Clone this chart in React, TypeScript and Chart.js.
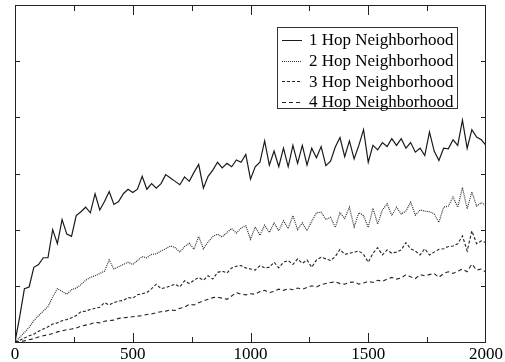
import React, { useEffect, useRef } from "react";
import { Chart, registerables } from "chart.js";

Chart.register(...registerables);

const xValues: number[] = Array.from({ length: 101 }, (_, i) => i * 20);

const hop1: number[] = [
  0, 0.45, 0.95, 0.98, 1.33, 1.38, 1.5, 1.5, 2.0, 1.75,
  2.18, 1.92, 1.88, 2.25, 2.32, 2.4, 2.3, 2.64, 2.35, 2.5,
  2.68, 2.45, 2.5, 2.64, 2.72, 2.66, 2.72, 2.95, 2.72, 2.82,
  2.74, 2.82, 2.98, 2.92, 2.86, 2.8, 2.94, 2.86, 3.02, 3.16,
  2.74, 2.95, 3.06, 3.2, 3.1, 3.18, 3.12, 3.24, 3.2, 3.34,
  2.9, 3.12, 3.2, 3.58, 3.15, 3.4, 3.12, 3.45, 3.12, 3.5,
  3.18, 3.5, 3.15, 3.45, 3.28, 3.48, 3.14, 3.22, 3.47, 3.64,
  3.3, 3.58, 3.26, 3.5, 3.78, 3.2, 3.5, 3.42, 3.55, 3.48,
  3.62, 3.5, 3.62, 3.45, 3.55, 3.38, 3.45, 3.32, 3.74, 3.4,
  3.23, 3.45, 3.44, 3.6, 3.5, 3.95, 3.45, 3.78, 3.65, 3.6,
  3.5,
];

const hop2: number[] = [
  0, 0.08, 0.17, 0.26, 0.38, 0.47, 0.55, 0.63, 0.8, 0.95,
  0.9, 0.85, 0.93, 0.96, 1.02, 1.1, 1.15, 1.18, 1.22, 1.26,
  1.46, 1.3, 1.34, 1.38, 1.42, 1.38, 1.45, 1.52, 1.5, 1.56,
  1.57, 1.62, 1.66, 1.71, 1.68, 1.6, 1.7, 1.76, 1.65, 1.88,
  1.66, 1.78, 1.88, 1.92, 1.87, 1.95, 2.02, 1.94, 2.03, 2.07,
  1.83, 2.05, 1.9, 2.08, 1.95, 2.12, 1.98, 2.16, 2.02, 2.25,
  2.0, 2.12, 1.98, 2.15, 2.3, 2.31, 2.18, 2.22, 2.04, 2.3,
  2.2, 2.4, 2.05, 2.3, 2.25, 2.04, 2.38, 2.1, 2.35, 2.46,
  2.25, 2.4, 2.28, 2.33, 2.49, 2.26, 2.35, 2.33, 2.32, 2.28,
  2.13, 2.4, 2.42, 2.58, 2.4, 2.75, 2.37, 2.67, 2.42, 2.48,
  2.43,
];

const hop3: number[] = [
  0, 0.03, 0.07, 0.11, 0.14, 0.19, 0.23, 0.27, 0.32, 0.34,
  0.38, 0.4, 0.43, 0.47, 0.54, 0.55, 0.58, 0.6, 0.62, 0.7,
  0.66, 0.7, 0.73, 0.74, 0.79, 0.78, 0.84, 0.86, 0.88, 0.95,
  1.03, 0.95, 0.97, 1.0, 1.03, 0.98, 1.09, 1.04, 1.1, 1.15,
  1.1, 1.18, 1.12, 1.24, 1.26, 1.23, 1.32, 1.35, 1.36, 1.32,
  1.3, 1.28, 1.36, 1.32, 1.33, 1.42, 1.32, 1.42, 1.45, 1.38,
  1.48, 1.4, 1.46, 1.33, 1.46, 1.51, 1.48, 1.45, 1.52, 1.65,
  1.56, 1.58, 1.6, 1.62, 1.56, 1.42, 1.58, 1.68, 1.55, 1.64,
  1.58, 1.6, 1.64, 1.77, 1.66, 1.62, 1.55, 1.66, 1.55, 1.6,
  1.65, 1.66, 1.7, 1.71, 1.75, 1.89, 1.62, 1.98, 1.75, 1.8,
  1.77,
];

const hop4: number[] = [
  0, 0.01, 0.02, 0.04, 0.06, 0.09, 0.11, 0.13, 0.15, 0.18,
  0.2, 0.22, 0.23, 0.25, 0.28, 0.3, 0.32, 0.35, 0.34, 0.37,
  0.38, 0.39, 0.42, 0.43, 0.44, 0.45, 0.46, 0.47, 0.49, 0.5,
  0.52, 0.54, 0.55, 0.57, 0.56, 0.6, 0.62, 0.67, 0.66, 0.7,
  0.73, 0.76, 0.79, 0.8, 0.78, 0.76, 0.82, 0.88, 0.85, 0.84,
  0.86, 0.85, 0.9, 0.92, 0.88, 0.9, 0.94, 0.92, 0.95, 0.93,
  0.96, 0.94, 0.97, 1.0, 0.98, 1.02, 1.04, 1.06, 1.07, 1.04,
  1.03, 1.06, 1.07, 1.03, 1.05, 1.08, 1.06, 1.1, 1.08, 1.12,
  1.15, 1.12, 1.14, 1.2, 1.16, 1.13, 1.2, 1.18, 1.2, 1.22,
  1.15, 1.22, 1.25, 1.22, 1.26, 1.3, 1.25, 1.39, 1.28, 1.3,
  1.24,
];

const seriesLabels: string[] = [
  "1 Hop Neighborhood",
  "2 Hop Neighborhood",
  "3 Hop Neighborhood",
  "4 Hop Neighborhood",
];

const xTickValues: number[] = [0, 250, 500, 750, 1000, 1250, 1500, 1750, 2000];
const yTickValues: number[] = [0, 1, 2, 3, 4, 5, 6];

const FONT = "'Liberation Serif', 'Times New Roman', serif";

const framePlugin = {
  id: "framePlugin",
  afterDatasetsDraw(chart: any) {
    const { ctx, chartArea, scales } = chart;
    const { left, right, top, bottom } = chartArea;
    ctx.save();
    ctx.strokeStyle = "#222";
    ctx.lineWidth = 1;
    ctx.setLineDash([]);
    ctx.strokeRect(left + 0.5, top + 0.5, right - left - 1, bottom - top);
    ctx.beginPath();
    xTickValues.forEach((v) => {
      if (v === 0 || v === 2000) return;
      const px = Math.round(scales.x.getPixelForValue(v)) + 0.5;
      const major = v % 500 === 0;
      ctx.moveTo(px, bottom);
      ctx.lineTo(px, bottom - (major ? 9 : 5));
      ctx.moveTo(px, top);
      ctx.lineTo(px, top + (major ? 10 : 6));
    });
    yTickValues.forEach((v) => {
      if (v === 0 || v === 6) return;
      const py = Math.round(scales.y.getPixelForValue(v)) + 0.5;
      ctx.moveTo(left, py);
      ctx.lineTo(left + 5, py);
      ctx.moveTo(right, py);
      ctx.lineTo(right - 5, py);
    });
    ctx.stroke();

    // legend box
    const bx = 277, by = 27, bw = 180, bh = 81;
    ctx.fillStyle = "#fff";
    ctx.fillRect(bx, by, bw, bh);
    ctx.strokeStyle = "#333";
    ctx.strokeRect(bx + 0.5, by + 0.5, bw, bh);
    ctx.font = `17px ${FONT}`;
    ctx.textBaseline = "middle";
    ctx.textAlign = "left";
    chart.data.datasets.forEach((ds: any, i: number) => {
      const ry = by + 13 + i * 20.6;
      ctx.beginPath();
      ctx.strokeStyle = ds.borderColor;
      ctx.lineWidth = 1;
      ctx.setLineDash(ds.borderDash || []);
      ctx.moveTo(bx + 5, Math.round(ry) + 0.5);
      ctx.lineTo(bx + 25, Math.round(ry) + 0.5);
      ctx.stroke();
      ctx.setLineDash([]);
      ctx.fillStyle = "#000";
      ctx.fillText(ds.label, bx + 32, ry + 1);
    });
    ctx.restore();
  },
};

export default function App() {
  const ref = useRef<HTMLCanvasElement | null>(null);
  useEffect(() => {
    document.body.style.margin = "0";
    if (!ref.current) return;
    const mk = (label: string, data: number[], color: string, dash: number[], w: number) => ({
      label,
      data: data.map((y, i) => ({ x: xValues[i], y })),
      borderColor: color,
      borderWidth: w,
      borderDash: dash,
      pointRadius: 0,
      fill: false,
      tension: 0,
    });
    const chart = new Chart(ref.current, {
      type: "line",
      data: {
        datasets: [
          mk(seriesLabels[0], hop1, "#1a1a1a", [], 1.2),
          mk(seriesLabels[1], hop2, "#333", [1, 1], 1.2),
          mk(seriesLabels[2], hop3, "#222", [3, 2], 1.1),
          mk(seriesLabels[3], hop4, "#222", [4, 3], 1.1),
        ],
      },
      options: {
        animation: false,
        responsive: false,
        layout: { padding: { left: 15, right: 17, top: 5, bottom: 0 } },
        plugins: { legend: { display: false }, tooltip: { enabled: false } },
        scales: {
          x: {
            type: "linear",
            min: 0,
            max: 2000,
            grid: { display: false, drawTicks: false },
            border: { display: false },
            ticks: {
              stepSize: 500,
              padding: 2,
              color: "#000",
              font: { family: FONT, size: 17 },
              maxRotation: 0,
              autoSkip: false,
              callback: (v: any) => String(v),
            },
            afterFit: (s: any) => {
              s.height = 20;
            },
          },
          y: {
            type: "linear",
            min: 0,
            max: 6,
            grid: { display: false, drawTicks: false },
            border: { display: false },
            ticks: { display: false, stepSize: 1 },
            afterFit: (s: any) => {
              s.width = 0;
            },
          },
        },
      },
      plugins: [framePlugin],
    });
    return () => chart.destroy();
  }, []);
  return (
    <div style={{ position: "absolute", left: 0, top: 0, width: 505, height: 362 }}>
      <canvas ref={ref} width={505} height={362} />
    </div>
  );
}
